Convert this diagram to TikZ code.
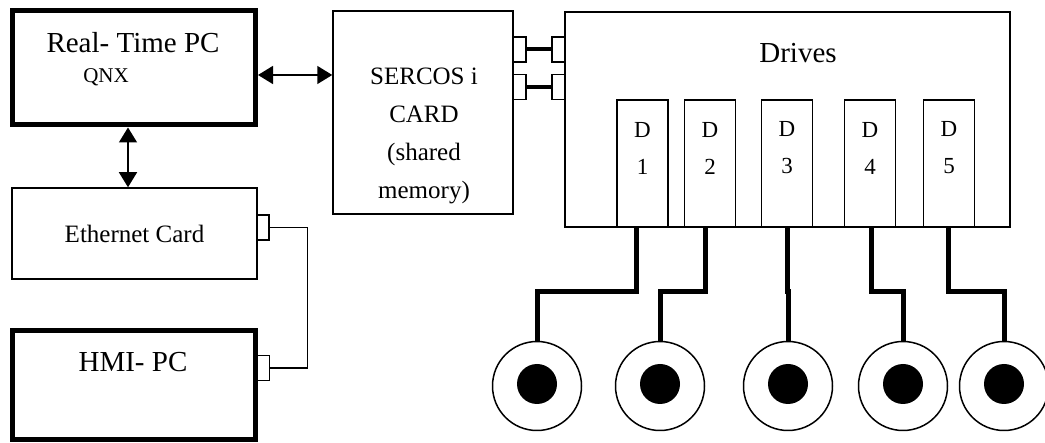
\documentclass[tikz,border=0pt]{standalone}
\usepackage{fontspec}
\setmainfont{Liberation Serif}
\usetikzlibrary{arrows.meta, positioning, calc}
\newcommand{\titlefont}{\fontsize{29}{35}\selectfont}
\newcommand{\cardfont}{\fontsize{25}{38}\selectfont}
\newcommand{\slotfont}{\fontsize{23}{37}\selectfont}
\newcommand{\osfont}{\fontsize{21}{25}\selectfont}
\tikzset{
  pcbox/.style={rectangle, draw, line width=5pt, inner sep=0pt},
  cardbox/.style={rectangle, draw, line width=1.5pt, inner sep=0pt},
  slot/.style={rectangle, draw, line width=1.5pt, inner sep=0pt,
    minimum width=51, minimum height=127},
  port/.style={rectangle, draw, line width=1.2pt, inner sep=0pt,
    minimum width=12, minimum height=25},
  motor/.style={circle, draw, line width=1.5pt, minimum size=89, inner sep=0pt},
  rotor/.style={circle, fill, minimum size=40, inner sep=0pt},
  dblarrow/.style={arrows={Triangle[length=15pt, width=18pt]-Triangle[length=15pt, width=18pt]}, line width=1.5pt},
  link/.style={line width=4pt},
  cable/.style={line width=1.2pt},
  wire/.style={line width=5pt}
}
\begin{document}
\begin{tikzpicture}[x=1pt, y=-1pt]
  \useasboundingbox (0,0) rectangle (1045,443);

  % PCs and network card
  \node[pcbox, minimum width=243, minimum height=114] (rtpc) at (134,68) {};
  \node[font=\titlefont] (rttitle) at (133,43) {Real- Time PC};
  \node[font=\osfont] (rtos) at (106,77) {QNX};
  \node[cardbox, minimum width=245, minimum height=91, font=\cardfont] (eth) at (134.5,233.5) {Ethernet Card};
  \node[pcbox, minimum width=243, minimum height=109] (hmi) at (134,385) {};
  \node[font=\titlefont] (hmititle) at (133,362) {HMI- PC};

  % SERCOS card and drives rack
  \node[cardbox, minimum width=180, minimum height=203] (sercos) at (423,112.5) {};
  \node[font=\cardfont, align=center] (sercostxt) at (424,136) {SERCOS i\\CARD\\(shared\\memory)};
  \node[cardbox, minimum width=445, minimum height=215] (drives) at (787.5,119.5) {};
  \node[font=\titlefont] (drivestxt) at (798,53) {Drives};
  \foreach \i/\sx in {1/642.5,2/710,3/787,4/870,5/949} {
    \node[slot] (d\i) at (\sx,163.5) {};
    \node[font=\slotfont, align=center] (dl\i) at (\sx,148) {D\\\i};
  }

  % ports
  \node[port] (ethport) at (263,227.5) {};
  \node[port] (hmiport) at (263.5,368) {};
  \node[port, minimum width=13] (sp1) at (519.5,49.5) {};
  \node[port, minimum width=13] (sp2) at (519.5,87) {};
  \node[port, minimum width=13] (dp1) at (558.5,49.5) {};
  \node[port, minimum width=13] (dp2) at (558.5,87) {};

  % motors
  \foreach \i/\mx in {1/537,2/660,3/788,4/903,5/1004} {
    \node[motor] (motor\i) at (\mx,386) {};
    \node[rotor] (rotor\i) at (\mx,384) {};
  }

  % connections
  \coordinate (bus) at ($(rtpc.east)+(0,7)$);
  \draw[dblarrow] (bus) -- (bus -| sercos.west);
  \coordinate (lan) at ($(rtpc.south)+(-6,0)$);
  \draw[dblarrow] (lan) -- (lan |- eth.north);
  \draw[cable] (ethport.east) -- ++(38,0) |- (hmiport.east);
  \draw[link] (sp1.east) -- (dp1.west);
  \draw[link] (sp2.east) -- (dp2.west);
  \foreach \i/\dx in {1/-6,2/-5,3/0,4/1,5/-1}
    \draw[wire] ($(d\i.south)+(\dx,0)$) -- ++(0,64) -| (motor\i.north);
\end{tikzpicture}
\end{document}
